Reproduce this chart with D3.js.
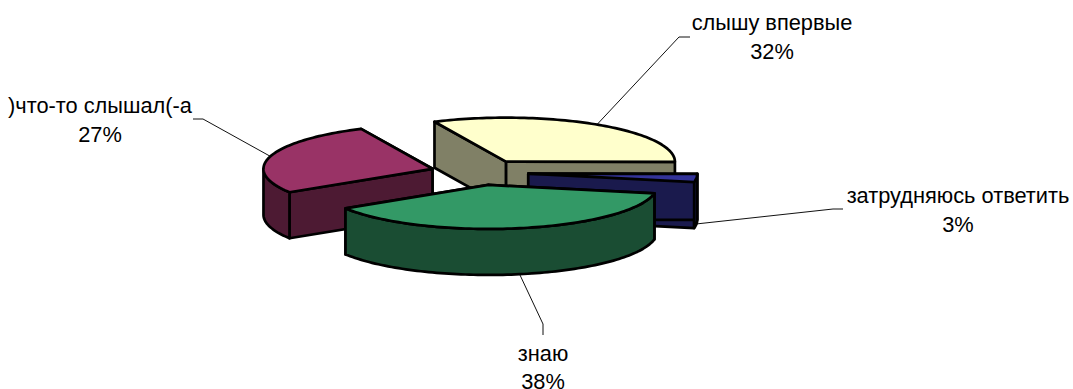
<!DOCTYPE html>
<html>
<head>
<meta charset="utf-8">
<script src="https://d3js.org/d3.v7.min.js"></script>
<style>
html, body { margin: 0; padding: 0; background: #fff; overflow: hidden; }
text { font-family: "Liberation Sans", Arial, sans-serif; font-size: 21.8px; fill: #000; }
</style>
</head>
<body>
<div id="chart"></div>
<script>
const categories = ["слышу впервые", "затрудняюсь ответить", "знаю", ")что-то слышал(-а"];
const values = [32, 3, 38, 27];
const topColors = ["#ffffcc", "#333399", "#339966", "#993366"];
const sideColors = ["#808066", "#1a1a4d", "#1a4d33", "#4d1a33"];
const labelX = [772, 958, 543, 100];
const labelY = [30, 203, 360.5, 113];
const elbows = [[[679, 37], [690, 37]], [[833, 209], [843, 209]], [[543, 324], [543, 335]], [[203, 119], [193, 119]]];
const drawOrder = [0, 3, 1, 2];

const width = 1073, height = 389;
const cx = 479.5, cy = 172.4, rx = 169, ry = 44, depth = 46, explode = 0.29;

const svg = d3.select("#chart").append("svg")
    .attr("width", width)
    .attr("height", height)
    .style("display", "block");

const startAngle = 335 * Math.PI / 180;
const slices = d3.pie().sort(null).startAngle(startAngle).endAngle(startAngle + 2 * Math.PI)(values);

// point on the squashed circle, angle is clockwise from 12 o'clock
function ringPoint(a, k) {
    return [rx * k * Math.sin(a), -ry * k * Math.cos(a)];
}

function apex(d) {
    const p = ringPoint((d.startAngle + d.endAngle) / 2, explode);
    return [cx + p[0], cy + p[1]];
}

function rimPoints(d, a0, a1, dy) {
    const c = apex(d);
    const n = Math.max(2, Math.ceil((a1 - a0) * 40));
    return d3.range(n + 1).map(i => {
        const p = ringPoint(a0 + (a1 - a0) * i / n, 1);
        return [c[0] + p[0], c[1] + p[1] + dy];
    });
}

const line = d3.line();

function radialFace(d, a) {
    const c = apex(d);
    const p = ringPoint(a, 1);
    return line([c, [c[0] + p[0], c[1] + p[1]], [c[0] + p[0], c[1] + p[1] + depth], [c[0], c[1] + depth]]) + "Z";
}

// only the part of the rim between 3 and 9 o'clock faces the viewer
function outerWall(d) {
    const turn = Math.floor(d.startAngle / (2 * Math.PI)) * 2 * Math.PI;
    const a0 = Math.max(d.startAngle, turn + Math.PI / 2);
    const a1 = Math.min(d.endAngle, turn + 3 * Math.PI / 2);
    if (a1 <= a0) return null;
    return line(rimPoints(d, a0, a1, 0).concat(rimPoints(d, a0, a1, depth).reverse())) + "Z";
}

function topFace(d) {
    return line([apex(d)].concat(rimPoints(d, d.startAngle, d.endAngle, 0))) + "Z";
}

// leader lines go under the pie
svg.append("g").selectAll("path")
    .data(slices)
    .enter().append("path")
    .attr("fill", "none")
    .attr("stroke", "#111")
    .attr("stroke-width", 1)
    .attr("d", (d, i) => {
        const c = apex(d);
        const mid = (d.startAngle + d.endAngle) / 2;
        const p = ringPoint(mid, 1);
        const front = Math.cos(mid) < 0 ? depth : 0;
        return line([[c[0] + p[0], c[1] + p[1] + front]].concat(elbows[i]));
    });

const sliceGroups = svg.append("g").selectAll("g")
    .data(drawOrder.map(i => slices[i]))
    .enter().append("g")
    .attr("stroke", "#000")
    .attr("stroke-width", 2.7)
    .attr("stroke-linejoin", "round");

sliceGroups.append("path")
    .attr("fill", d => sideColors[d.index])
    .attr("d", d => radialFace(d, d.endAngle));

sliceGroups.append("path")
    .attr("fill", d => sideColors[d.index])
    .attr("d", d => radialFace(d, d.startAngle));

sliceGroups.append("path")
    .attr("fill", d => sideColors[d.index])
    .attr("d", d => outerWall(d));

sliceGroups.append("path")
    .attr("fill", d => topColors[d.index])
    .attr("d", d => topFace(d));

const labels = svg.append("g").selectAll("text")
    .data(categories)
    .enter().append("text")
    .attr("text-anchor", "middle")
    .attr("x", (d, i) => labelX[i])
    .attr("y", (d, i) => labelY[i]);

labels.append("tspan")
    .attr("x", (d, i) => labelX[i])
    .text(d => d);

labels.append("tspan")
    .attr("x", (d, i) => labelX[i])
    .attr("dy", 28.5)
    .text((d, i) => values[i] + "%");
</script>
</body>
</html>
